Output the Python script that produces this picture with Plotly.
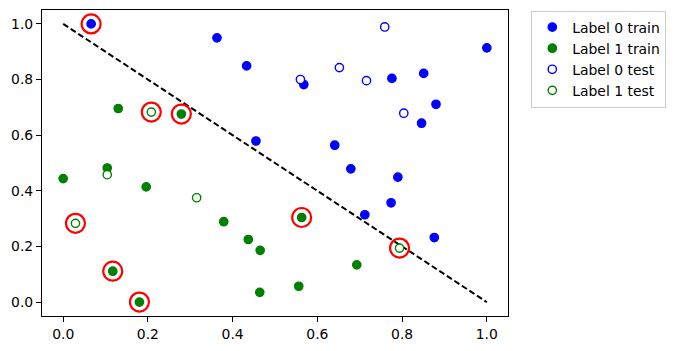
import plotly.graph_objects as go

# ---- data ----
label0_train_x = [0.066, 0.363, 0.433, 0.455, 0.568, 0.776, 0.851, 1.000, 0.880, 0.846, 0.641, 0.679, 0.790, 0.774, 0.712, 0.876]
label0_train_y = [1.000, 0.950, 0.849, 0.579, 0.782, 0.804, 0.822, 0.914, 0.711, 0.643, 0.564, 0.479, 0.449, 0.357, 0.314, 0.232]

label1_train_x = [0.130, 0.279, 0.104, 0.000, 0.196, 0.379, 0.437, 0.465, 0.117, 0.180, 0.464, 0.563, 0.693, 0.556]
label1_train_y = [0.696, 0.676, 0.482, 0.444, 0.414, 0.289, 0.225, 0.186, 0.111, 0.000, 0.035, 0.304, 0.134, 0.057]

label0_test_x = [0.759, 0.560, 0.652, 0.716, 0.804]
label0_test_y = [0.989, 0.800, 0.843, 0.796, 0.679]

label1_test_x = [0.208, 0.104, 0.315, 0.029, 0.794]
label1_test_y = [0.683, 0.458, 0.375, 0.283, 0.194]

highlight_x = [0.066, 0.208, 0.279, 0.029, 0.117, 0.180, 0.563, 0.794]
highlight_y = [1.000, 0.683, 0.676, 0.283, 0.111, 0.000, 0.304, 0.194]

boundary_x = [0.0, 1.0]
boundary_y = [1.0, 0.0]

ticks = [0.0, 0.2, 0.4, 0.6, 0.8, 1.0]

FONT = "DejaVu Sans"
FS = 13.9

fig = go.Figure()

fig.add_trace(go.Scatter(x=boundary_x, y=boundary_y, mode="lines",
                         line=dict(color="black", width=2, dash="6px,3px"),
                         showlegend=False, hoverinfo="skip"))

fig.add_trace(go.Scatter(x=label0_train_x, y=label0_train_y, mode="markers", name="Label 0 train",
                         marker=dict(symbol="circle", size=8.3, color="#0000ff",
                                     line=dict(color="#0000ff", width=1.4))))
fig.add_trace(go.Scatter(x=label1_train_x, y=label1_train_y, mode="markers", name="Label 1 train",
                         marker=dict(symbol="circle", size=8.3, color="#008000",
                                     line=dict(color="#008000", width=1.4))))
fig.add_trace(go.Scatter(x=label0_test_x, y=label0_test_y, mode="markers", name="Label 0 test",
                         marker=dict(symbol="circle", size=8.3, color="white",
                                     line=dict(color="#0000ff", width=1.4))))
fig.add_trace(go.Scatter(x=label1_test_x, y=label1_test_y, mode="markers", name="Label 1 test",
                         marker=dict(symbol="circle", size=8.3, color="white",
                                     line=dict(color="#008000", width=1.4))))
fig.add_trace(go.Scatter(x=highlight_x, y=highlight_y, mode="markers", showlegend=False,
                         marker=dict(symbol="circle-open", size=19, color="#ff0000",
                                     line=dict(color="#ff0000", width=2.2))))

axis_common = dict(
    range=[-0.05, 1.05], tickvals=ticks, tickformat=".1f",
    showline=True, linecolor="black", linewidth=1.1, mirror=True,
    ticks="outside", ticklen=5, tickwidth=1.1, tickcolor="black",
    showgrid=False, zeroline=False,
    tickfont=dict(family=FONT, size=FS, color="black"),
)

fig.update_layout(
    width=677, height=351,
    margin=dict(l=42, r=169, t=9, b=34),
    plot_bgcolor="white", paper_bgcolor="white",
    font=dict(family=FONT, size=FS, color="black"),
    xaxis=axis_common, yaxis=axis_common,
    legend=dict(x=1.05, y=0.998, xanchor="left", yanchor="top",
                bordercolor="#cccccc", borderwidth=1, bgcolor="white",
                font=dict(family=FONT, size=FS, color="black"),
                tracegroupgap=0),
)

fig.write_html("out.html")
